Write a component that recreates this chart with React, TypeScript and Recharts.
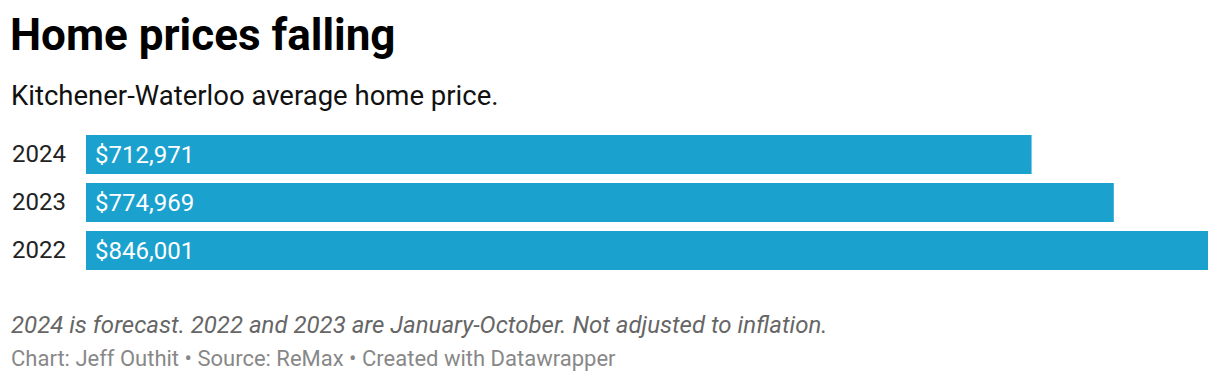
import { BarChart, Bar, XAxis, YAxis, LabelList } from 'recharts';

const years = ['2024', '2023', '2022'];
const prices = [712971, 774969, 846001];

const data = years.map((year, i) => ({ year, price: prices[i] }));

const font = 'Roboto, "Noto Sans", sans-serif';

const YearTick = (props: any) => {
  const { y, payload } = props;
  return (
    <text x={12} y={y} dy={8} fontSize={24} fill="#222" fontFamily={font} textAnchor="start">
      {payload.value}
    </text>
  );
};

const PriceLabel = (props: any) => {
  const { x, y, height, value } = props;
  return (
    <text x={x + 9} y={y + height / 2} dy={8} fontSize={24} fill="#fff" fontFamily={font}>
      {'$' + Number(value).toLocaleString('en-US')}
    </text>
  );
};

export default function App() {
  return (
    <div
      style={{
        position: 'fixed',
        top: 0,
        left: 0,
        width: 1220,
        height: 384,
        background: '#fff',
        fontFamily: font,
      }}
    >
      <div
        style={{
          position: 'absolute',
          left: 10,
          top: 8,
          fontSize: 44,
          fontWeight: 700,
          color: '#000',
          lineHeight: '54px',
        }}
      >
        Home prices falling
      </div>
      <div style={{ position: 'absolute', left: 11, top: 79, fontSize: 27.5, color: '#111', lineHeight: '34px' }}>
        Kitchener-Waterloo average home price.
      </div>
      <div style={{ position: 'absolute', left: 0, top: 130 }}>
        <BarChart
          width={1220}
          height={144}
          data={data}
          layout="vertical"
          margin={{ top: 0, right: 12, bottom: 0, left: 0 }}
          barSize={39}
        >
          <XAxis type="number" hide domain={[0, 846001]} />
          <YAxis
            type="category"
            dataKey="year"
            width={86}
            axisLine={false}
            tickLine={false}
            tick={<YearTick />}
          />
          <Bar dataKey="price" fill="#1aa1ce" isAnimationActive={false}>
            <LabelList dataKey="price" content={<PriceLabel />} />
          </Bar>
        </BarChart>
      </div>
      <div
        style={{
          position: 'absolute',
          left: 11,
          top: 311,
          fontSize: 24,
          fontStyle: 'italic',
          color: '#666',
          lineHeight: '28px',
        }}
      >
        2024 is forecast. 2022 and 2023 are January-October. Not adjusted to inflation.
      </div>
      <div style={{ position: 'absolute', left: 11, top: 346, fontSize: 22, color: '#888', lineHeight: '26px' }}>
        Chart: Jeff Outhit • Source: ReMax • Created with Datawrapper
      </div>
    </div>
  );
}
